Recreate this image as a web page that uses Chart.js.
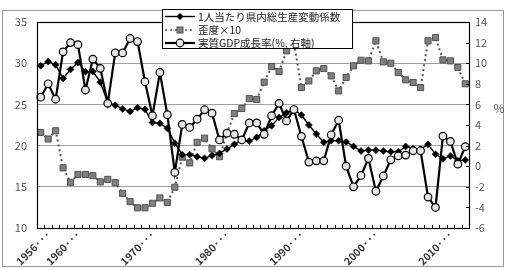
<!DOCTYPE html>
<html>
<head>
<meta charset="utf-8">
<script src="https://cdn.jsdelivr.net/npm/chart.js@4.4.1/dist/chart.umd.min.js"></script>
<style>
  html, body { margin: 0; padding: 0; background: #fff; }
  #wrap { width: 510px; height: 270px; }
</style>
</head>
<body>
<div id="wrap"><canvas id="chart" width="510" height="270"></canvas></div>
<script>
const years = ['1956','1957','1958','1959','1960','1961','1962','1963','1964','1965',
  '1966','1967','1968','1969','1970','1971','1972','1973','1974','1975',
  '1976','1977','1978','1979','1980','1981','1982','1983','1984','1985',
  '1986','1987','1988','1989','1990','1991','1992','1993','1994','1995',
  '1996','1997','1998','1999','2000','2001','2002','2003','2004','2005',
  '2006','2007','2008','2009','2010','2011','2012','2013'];
const labeledYears = ['1956','1960','1970','1980','1990','2000','2010'];

// 1人当たり県内総生産変動係数 (left axis)
const cvValues = [29.7, 30.2, 29.8, 28.15, 29.25, 30.1, 28.95, 29.0, 27.7, 25.2,
  24.9, 24.45, 24.15, 24.6, 24.4, 22.8, 22.7, 22.1, 20.3, 18.9,
  18.9, 18.65, 18.45, 18.8, 19.05, 19.6, 20.15, 20.7, 20.55, 21.0,
  21.8, 22.4, 23.4, 24.0, 24.4, 23.7, 22.5, 21.4, 20.4, 20.6,
  20.6, 20.45, 19.9, 19.35, 19.45, 19.45, 19.35, 19.25, 19.25, 19.9,
  19.65, 19.55, 20.15, 18.95, 18.4, 18.75, 18.15, 18.25];

// 歪度×10 (left axis)
const skewValues = [21.6, 20.8, 21.8, 17.3, 15.55, 16.5, 16.5, 16.35, 15.6, 15.9,
  15.5, 14.2, 13.2, 12.45, 12.45, 13.0, 13.65, 13.1, 14.95, 18.6,
  17.9, 20.4, 20.9, 19.6, 18.65, 21.5, 23.9, 24.5, 25.7, 25.6,
  27.7, 29.6, 29.0, 31.5, 32.5, 27.05, 27.85, 29.07, 29.35, 28.46,
  26.64, 28.26, 29.68, 30.36, 30.28, 32.71, 30.16, 30.0, 28.87, 27.98,
  27.65, 27.04, 32.71, 33.1, 30.4, 30.28, 29.47, 27.5];

// 実質GDP成長率 (%, right axis)
const gdpValues = [6.7, 8.0, 6.5, 11.1, 12.0, 11.8, 7.4, 10.4, 9.5, 6.1,
  11.0, 11.0, 12.4, 12.1, 8.2, 4.9, 9.1, 5.0, -0.6, 4.05,
  3.76, 4.56, 5.48, 5.15, 2.55, 3.2, 3.1, 2.55, 4.2, 4.2,
  3.1, 4.9, 6.1, 4.4, 5.5, 2.9, 0.4, 0.52, 0.52, 3.05,
  4.46, 0.0, -2.0, -0.9, 0.75, -2.43, -0.95, 0.62, 1.0, 1.08,
  1.5, 1.5, -3.0, -4.0, 2.92, 2.4, 0.2, 1.9];

const legendItems = ['1人当たり県内総生産変動係数', '歪度×10', '実質GDP成長率(%, 右軸)'];

const FONT = '"Noto Sans CJK JP", "Noto Sans", sans-serif';

function drawMarker(ctx, kind, x, y) {
    ctx.save();
    ctx.setLineDash([]);
    if (kind === 0) {
        ctx.fillStyle = '#000';
        ctx.beginPath();
        ctx.moveTo(x, y - 3.5); ctx.lineTo(x + 3.5, y); ctx.lineTo(x, y + 3.5); ctx.lineTo(x - 3.5, y);
        ctx.closePath(); ctx.fill();
    } else if (kind === 1) {
        ctx.fillStyle = '#808080'; ctx.strokeStyle = '#505050'; ctx.lineWidth = 1;
        ctx.fillRect(x - 3, y - 3, 6, 6); ctx.strokeRect(x - 3, y - 3, 6, 6);
    } else {
        ctx.fillStyle = '#e6e6e6'; ctx.strokeStyle = '#000'; ctx.lineWidth = 1.2;
        ctx.beginPath(); ctx.arc(x, y, 3.8, 0, Math.PI * 2); ctx.fill(); ctx.stroke();
    }
    ctx.restore();
}

const decorPlugin = {
    id: 'decor',
    beforeDraw(chart) {
        const ctx = chart.ctx;
        ctx.save();
        ctx.fillStyle = '#fff';
        ctx.fillRect(0, 0, chart.width, chart.height);
        ctx.restore();
    },
    afterDraw(chart) {
        const { ctx, chartArea: a, scales } = chart;
        ctx.save();
        ctx.strokeStyle = '#000';
        ctx.lineWidth = 1;
        ctx.setLineDash([]);

        // category ticks pointing into the plot
        const n = years.length;
        const step = (a.right - a.left) / n;
        ctx.beginPath();
        for (let i = 1; i < n; i++) {
            const x = Math.round(a.left + i * step) + 0.5;
            ctx.moveTo(x, a.bottom); ctx.lineTo(x, a.bottom - 3);
        }
        // right axis ticks pointing inward
        const y1 = scales.y1;
        y1.ticks.forEach(t => {
            const y = Math.round(y1.getPixelForValue(t.value)) + 0.5;
            ctx.moveTo(a.right, y); ctx.lineTo(a.right - 3, y);
        });
        ctx.stroke();

        // plot border
        ctx.lineWidth = 1.2;
        ctx.strokeRect(Math.round(a.left) + 0.5, Math.round(a.top) + 0.5,
            Math.round(a.right - a.left), Math.round(a.bottom - a.top));

        // outer frame
        ctx.strokeStyle = '#9a9a9a';
        ctx.lineWidth = 1;
        ctx.strokeRect(2.5, 10.5, 501, 256);

        // % unit
        ctx.fillStyle = '#555';
        ctx.font = '12px ' + FONT;
        ctx.textAlign = 'center';
        ctx.textBaseline = 'middle';
        ctx.fillText('%', 499, (a.top + a.bottom) / 2 - 17);

        // legend box
        const lx = 162.5, ly = 9.5, lw = 190, lh = 39;
        ctx.fillStyle = '#fff';
        ctx.fillRect(lx, ly, lw, lh);
        ctx.strokeStyle = '#000';
        ctx.strokeRect(lx, ly, lw, lh);
        const rows = [16.5, 30, 43];
        ctx.font = '10.5px ' + FONT;
        ctx.textAlign = 'left';
        legendItems.forEach((label, k) => {
            const y = rows[k];
            ctx.beginPath();
            ctx.strokeStyle = k === 1 ? '#555' : '#000';
            ctx.lineWidth = k === 2 ? 2.2 : 1.4;
            ctx.setLineDash(k === 1 ? [2, 3] : []);
            ctx.moveTo(165, y); ctx.lineTo(195, y);
            ctx.stroke();
            drawMarker(ctx, k, 180, y);
            ctx.fillStyle = '#222';
            ctx.fillText(label, 198, y + 0.5);
        });
        ctx.restore();
    }
};

new Chart(document.getElementById('chart'), {
    type: 'line',
    data: {
        labels: years,
        datasets: [
            {
                label: legendItems[2],
                data: gdpValues,
                yAxisID: 'y1',
                order: 0,
                borderColor: '#000',
                borderWidth: 2.2,
                pointStyle: 'circle',
                pointRadius: 3.8,
                pointBorderWidth: 1.2,
                pointBackgroundColor: '#e6e6e6',
                pointBorderColor: '#000',
                tension: 0,
            },
            {
                label: legendItems[0],
                data: cvValues,
                yAxisID: 'y',
                order: 1,
                borderColor: '#000',
                borderWidth: 1.4,
                pointStyle: 'rectRot',
                pointRadius: 3.5,
                pointBackgroundColor: '#000',
                pointBorderColor: '#000',
                pointBorderWidth: 0.5,
                tension: 0,
            },
            {
                label: legendItems[1],
                data: skewValues,
                yAxisID: 'y',
                order: 2,
                borderColor: '#555',
                borderWidth: 2,
                borderDash: [2, 3],
                pointStyle: 'rect',
                pointRadius: 4.3,
                pointBackgroundColor: '#808080',
                pointBorderColor: '#505050',
                pointBorderWidth: 1,
                tension: 0,
            },
        ],
    },
    options: {
        responsive: false,
        animation: false,
        layout: { padding: { left: 0, right: 0, top: 22, bottom: 0 } },
        plugins: { legend: { display: false }, tooltip: { enabled: false } },
        scales: {
            x: {
                type: 'category',
                offset: true,
                grid: { display: false, drawTicks: false },
                border: { display: false },
                afterFit: (s) => { s.height = 42; },
                ticks: {
                    autoSkip: false,
                    minRotation: 45,
                    maxRotation: 45,
                    padding: 0,
                    labelOffset: 8,
                    color: '#333',
                    font: { family: FONT, size: 10.5, weight: 'bold' },
                    callback: function (v) {
                        const yr = this.getLabelForValue(v);
                        return labeledYears.includes(yr) ? yr + '···' : '';
                    },
                },
            },
            y: {
                position: 'left',
                min: 10,
                max: 35,
                afterFit: (s) => { s.width = 37; },
                grid: { color: '#a0a0a0', lineWidth: 1, drawTicks: false },
                border: { display: false },
                ticks: {
                    stepSize: 5,
                    padding: 10,
                    color: '#555',
                    font: { family: FONT, size: 11 },
                },
            },
            y1: {
                position: 'right',
                min: -6,
                max: 14,
                afterFit: (s) => { s.width = 41; },
                grid: { drawOnChartArea: false, drawTicks: false },
                border: { display: false },
                ticks: {
                    stepSize: 2,
                    padding: 6,
                    color: '#555',
                    font: { family: FONT, size: 11 },
                },
            },
        },
    },
    plugins: [decorPlugin],
});
</script>
</body>
</html>
